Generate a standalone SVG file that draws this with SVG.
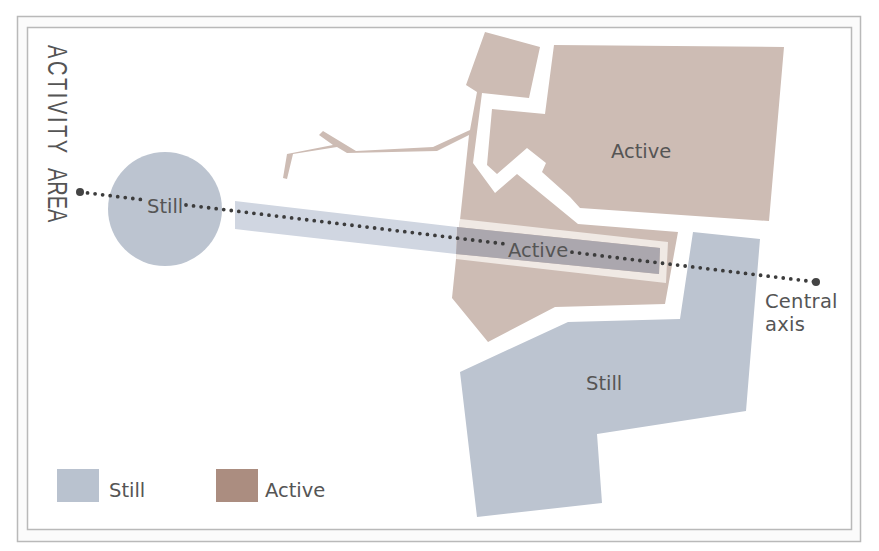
<svg xmlns="http://www.w3.org/2000/svg" width="879" height="551" viewBox="0 0 879 551">
<style>
.frame{stroke:#b9b9b9;stroke-width:1.5}
.active{fill:#cdbcb4}
.still{fill:#bcc4d0}
.t{font-family:"DejaVu Sans",sans-serif;font-size:19.5px;fill:#555}
.v{font-family:"Liberation Sans",sans-serif;font-size:20px;fill:#555}
.axis{fill:none;stroke:#3c3c3c;stroke-width:3.8;stroke-linecap:round;stroke-dasharray:0 7.6}
.end{fill:#444}
</style>
<rect width="879" height="551" fill="#fff"/>
<rect class="frame" fill="#fbfbfb" x="17.5" y="16.5" width="843" height="525"/>
<rect class="frame" fill="#fff" x="27.5" y="27.5" width="824" height="502"/>
<g id="node-active-west"><path class="active" d="M485 32L540 47L529 98L482 93L473 163L495 193L517 174L578 224L678 232L665 304L555 307L488 342L452 298L460 220L469 135L437 151L347 153L337 147L293 154L287 179L283 178L287 154L333 145L319 135L323 131L356 151L433 147L470 130L477 92L466 85Z"/></g>
<g id="node-active-east"><path class="active" d="M554 45L784 47L769 221L580 208L570 197L542 172L546 163L527 148L497 174L487 165L492 109L545 114Z"/></g>
<g id="node-still-south"><path class="still" d="M693 232L760 239L746 411L597 434L602 503L477 517L460 372L568 322L680 319Z"/></g>
<g id="node-still-circle"><circle class="still" cx="165" cy="209" r="57"/></g>
<g id="band">
<path fill="#d0d6e1" d="M235 201L457 227L456 254L235 229Z"/>
<path fill="#f0e9e4" fill-rule="evenodd" d="M460 219L668 242L666 283L456 259ZM457 227L456 254L659 274L660 248Z"/>
<path fill="#aba7ae" d="M457 227L660 248L659 274L456 254Z"/>
</g>
<g id="connectors">
<path class="axis" d="M80 192L146 200.1M186 205L508 244.3M572 252.2L816 282"/>
<circle class="end" cx="80" cy="192" r="4"/>
<circle class="end" cx="816" cy="282" r="4"/>
</g>
<g id="labels">
<text class="t" x="147" y="213">Still</text>
<text class="t" x="508" y="257">Active</text>
<text class="t" x="611" y="158">Active</text>
<text class="t" x="586" y="390">Still</text>
<text class="t" letter-spacing="0.25" x="765" y="308">Central</text>
<text class="t" letter-spacing="0.25" x="765" y="331">axis</text>
<text class="v" letter-spacing="2.6" transform="translate(48,45) rotate(90) scale(1,1.4)">ACTIVITY</text>
<text class="v" transform="translate(48,168) rotate(90) scale(1,1.4)">AREA</text>
</g>
<g id="legend">
<rect x="57" y="469" width="42" height="33" fill="#b9c2cf"/>
<text class="t" x="109" y="497">Still</text>
<rect x="216" y="469" width="42" height="33" fill="#ab8d80"/>
<text class="t" x="265" y="497">Active</text>
</g>
</svg>
